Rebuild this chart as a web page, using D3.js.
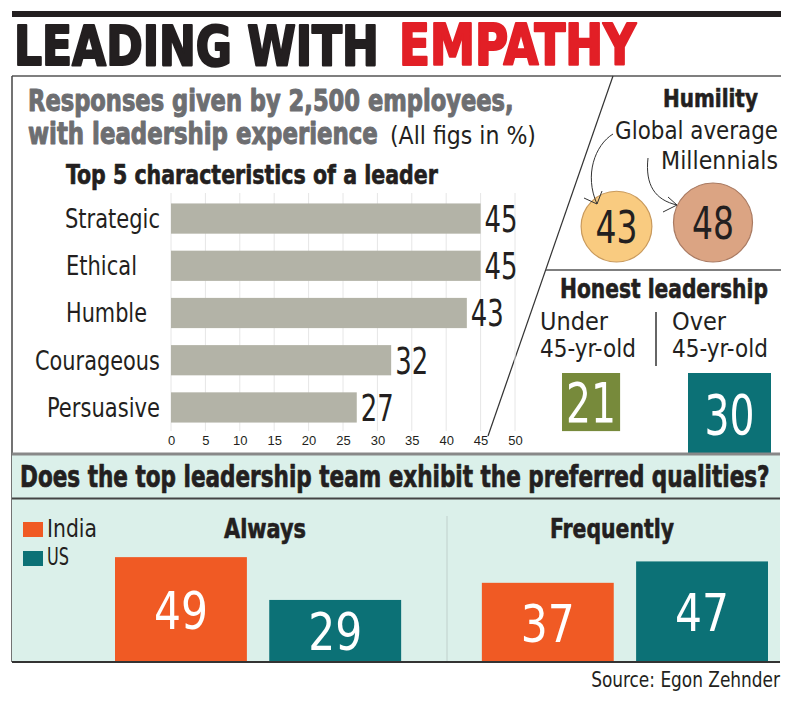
<!DOCTYPE html>
<html><head><meta charset="utf-8">
<script src="https://cdn.jsdelivr.net/npm/d3@7"></script>
<style>
html,body{margin:0;padding:0;background:#fff;}
svg{display:block;}
text{font-family:'Liberation Sans Narrow','DejaVu Sans Condensed','Roboto Condensed','Arial Narrow','Liberation Sans',sans-serif;}
</style></head>
<body>
<svg id="chart" width="799" height="702"></svg>
<script>
// ---------- DATA ----------
const categories = ["Strategic", "Ethical", "Humble", "Courageous", "Persuasive"];
const characteristicValues = [45, 45, 43, 32, 27];
const xTickValues = [0, 5, 10, 15, 20, 25, 30, 35, 40, 45, 50];

const humilityLabels = ["Global average", "Millennials"];
const humilityValues = [43, 48];

const honestLabelsTop = ["Under", "Over"];
const honestLabelsBottom = ["45-yr-old", "45-yr-old"];
const honestValues = [21, 30];

const groups = ["Always", "Frequently"];
const seriesNames = ["India", "US"];
const indiaValues = [49, 37];
const usValues = [29, 47];

// ---------- STYLE ----------
const C = {
  ink: "#231f20", red: "#e21f26", grey: "#6d6e71", bar: "#b3b3a7",
  grid: "#e6e6e6", orange: "#f05a24", teal: "#0c7176", green: "#778a3b",
  mint: "#dbf0ea", c1: "#f9cb80", c1s: "#c99a5c", c2: "#dba483", c2s: "#a97a62"
};
const catLabelWidths = [95, 71, 81, 125, 113];

const svg = d3.select("#chart");

// horizontally condense a text element to a target width, about its anchor x
function fitWidth(node, w) {
  const len = node.getComputedTextLength();
  if (!len || !w) return;
  const sx = w / len;
  const x = +node.getAttribute("x");
  node.setAttribute("transform", `translate(${x},0) scale(${sx},1) translate(${-x},0)`);
}

function txt(g, s, x, y, o) {
  o = o || {};
  const t = g.append("text").attr("x", x).attr("y", y).text(s)
    .attr("font-size", o.size || 24)
    .attr("font-weight", o.weight || "normal")
    .attr("fill", o.fill || C.ink)
    .attr("text-anchor", o.anchor || "start");
  if (o.stroke) t.attr("stroke", o.fill || C.ink).attr("stroke-width", o.stroke).attr("stroke-linejoin", "round");
  if (o.w) fitWidth(t.node(), o.w);
  return t;
}

// ---------- HEADER ----------
svg.append("rect").attr("x", 12).attr("y", 11).attr("width", 769).attr("height", 6).attr("fill", C.ink);
txt(svg, "LEADING WITH", 14, 65, {size: 56, weight: "bold", w: 365, fill: C.ink, stroke: 2.2});
txt(svg, "EMPATHY", 399, 65, {size: 56, weight: "bold", w: 237, fill: C.red, stroke: 2.2});

// frame lines
svg.append("line").attr("x1", 12).attr("x2", 781).attr("y1", 76).attr("y2", 76).attr("stroke", "#555").attr("stroke-width", 1.5);
svg.append("line").attr("x1", 12).attr("x2", 12).attr("y1", 76).attr("y2", 662).attr("stroke", "#444").attr("stroke-width", 1.5);
svg.append("line").attr("x1", 613).attr("y1", 76).attr("x2", 488).attr("y2", 436).attr("stroke", "#333").attr("stroke-width", 1.2);
svg.append("line").attr("x1", 546).attr("x2", 781).attr("y1", 270).attr("y2", 270).attr("stroke", "#555").attr("stroke-width", 1.5);

// subtitle
txt(svg, "Responses given by 2,500 employees,", 28, 111.5, {size: 29.5, weight: "bold", fill: C.grey, w: 486, stroke: 1});
txt(svg, "with leadership experience", 28, 144, {size: 29.5, weight: "bold", fill: C.grey, w: 350, stroke: 1});
txt(svg, "(All figs in %)", 390, 144, {size: 24, w: 146});
txt(svg, "Top 5 characteristics of a leader", 66, 184, {size: 26, weight: "bold", w: 372, stroke: 0.6});

// ---------- BAR CHART ----------
const x = d3.scaleLinear().domain([0, 50]).range([171, 515]);
const y = d3.scaleBand().domain(categories).range([194, 432]).paddingInner(0.36).paddingOuter(0.2);

const gChart = svg.append("g");
gChart.selectAll("line.grid").data(xTickValues).join("line")
  .attr("x1", d => x(d)).attr("x2", d => x(d)).attr("y1", 193).attr("y2", 431)
  .attr("stroke", C.grid).attr("stroke-width", 1);

const xAxis = d3.axisBottom(x).tickValues(xTickValues).tickSize(0).tickPadding(0);
const ax = gChart.append("g").attr("transform", "translate(0,433)").call(xAxis);
ax.select(".domain").remove();
ax.selectAll("text").attr("font-size", 13).attr("fill", C.ink).attr("dy", "0.9em")
  .style("font-family", "'Liberation Sans Narrow','Liberation Sans',sans-serif");

const rows = categories.map((c, i) => ({c, v: characteristicValues[i], w: catLabelWidths[i]}));
gChart.selectAll("rect.bar").data(rows).join("rect")
  .attr("x", x(0)).attr("y", d => y(d.c)).attr("width", d => x(d.v) - x(0)).attr("height", y.bandwidth())
  .attr("fill", C.bar);
gChart.selectAll("text.cat").data(rows).join("text")
  .attr("x", d => Math.min(66, 160 - d.w)).attr("y", d => y(d.c) + y.bandwidth() / 2).attr("dy", "0.36em")
  .attr("font-size", 26).attr("fill", C.ink).text(d => d.c)
  .each(function(d) { fitWidth(this, d.w); });
gChart.selectAll("text.val").data(rows).join("text")
  .attr("x", d => x(d.v) + 4).attr("y", d => y(d.c) + y.bandwidth() / 2).attr("dy", "0.36em")
  .attr("font-size", 37).attr("fill", C.ink).text(d => d.v)
  .each(function() { fitWidth(this, 33); });

// ---------- HUMILITY ----------
txt(svg, "Humility", 663, 107, {size: 25, weight: "bold", w: 95, stroke: 0.6});
txt(svg, "Global average", 778, 139, {size: 25, anchor: "end", w: 163});
txt(svg, "Millennials", 778, 169, {size: 25, anchor: "end", w: 117});

const r = d3.scaleLinear().domain([0, 48]).range([0, 39.5]);
const hx = d3.scalePoint().domain(humilityLabels).range([616.5, 713]);
const hum = humilityLabels.map((l, i) => ({l, v: humilityValues[i]}));
const circFill = [C.c1, C.c2], circStroke = [C.c1s, C.c2s];
svg.selectAll("circle.h").data(hum).join("circle")
  .attr("cx", d => hx(d.l)).attr("cy", d => 262 - r(d.v)).attr("r", d => r(d.v))
  .attr("fill", (d, i) => circFill[i]).attr("stroke", (d, i) => circStroke[i]).attr("stroke-width", 1.2);
svg.selectAll("text.h").data(hum).join("text")
  .attr("x", d => hx(d.l)).attr("y", d => 262 - r(d.v)).attr("dy", "0.36em")
  .attr("text-anchor", "middle").attr("font-size", 45).attr("fill", C.ink).text(d => d.v)
  .each(function() { fitWidth(this, 42); });

// curved arrows
const arrowG = svg.append("g").attr("fill", "none").attr("stroke", "#333").attr("stroke-width", 1);
arrowG.append("path").attr("d", "M613,134 C595,145 584,175 597,204");
arrowG.append("path").attr("d", "M584,198 L597,204 L602,191");
arrowG.append("path").attr("d", "M648,158 C645,185 655,200 677,205");
arrowG.append("path").attr("d", "M663,212 L677,205 L668,197");

// ---------- HONEST LEADERSHIP ----------
txt(svg, "Honest leadership", 560, 298, {size: 27, weight: "bold", w: 208, stroke: 0.6});
const hcol = d3.scalePoint().domain([0, 1]).range([540, 672]);
honestLabelsTop.forEach((l, i) => {
  txt(svg, l, hcol(i), 330, {size: 25});
  txt(svg, honestLabelsBottom[i], hcol(i), 357, {size: 25, w: 96});
});
svg.append("line").attr("x1", 656).attr("x2", 656).attr("y1", 312).attr("y2", 366).attr("stroke", "#333").attr("stroke-width", 1.5);

const side = d3.scaleLinear().domain([0, 30]).range([0, 83]);
const sqX = d3.scalePoint().domain([0, 1]).range([562, 688]);
const sqFill = [C.green, C.teal];
const hon = honestValues.map((v, i) => ({v, i}));
svg.selectAll("rect.sq").data(hon).join("rect")
  .attr("x", d => sqX(d.i)).attr("y", 373).attr("width", d => side(d.v)).attr("height", d => side(d.v))
  .attr("fill", d => sqFill[d.i]);
svg.selectAll("text.sq").data(hon).join("text")
  .attr("x", d => sqX(d.i) + side(d.v) / 2).attr("y", d => 373 + side(d.v) / 2).attr("dy", "0.36em")
  .attr("text-anchor", "middle").attr("font-size", 55).attr("fill", "#fff").text(d => d.v)
  .each(function() { fitWidth(this, 50); });

// ---------- BOTTOM SECTION ----------
svg.append("rect").attr("x", 12).attr("y", 453).attr("width", 768).attr("height", 209).attr("fill", C.mint);
svg.append("line").attr("x1", 12).attr("x2", 780).attr("y1", 454).attr("y2", 454).attr("stroke", "#888").attr("stroke-width", 3);
svg.append("line").attr("x1", 12).attr("x2", 780).attr("y1", 498.5).attr("y2", 498.5).attr("stroke", "#444").attr("stroke-width", 2);
txt(svg, "Does the top leadership team exhibit the preferred qualities?", 20, 487, {size: 30, weight: "bold", w: 750, stroke: 0.7});

svg.append("line").attr("x1", 447).attr("x2", 447).attr("y1", 516).attr("y2", 662).attr("stroke", "#c5d6d1").attr("stroke-width", 1.2);

// legend
const legColor = {India: C.orange, US: C.teal};
seriesNames.forEach((s, i) => {
  svg.append("rect").attr("x", 23).attr("y", 522 + i * 29).attr("width", 20).attr("height", 15).attr("fill", legColor[s]);
  txt(svg, s, 47, 537 + i * 28, {size: 25, w: s === "India" ? 50 : 22});
});

const gx = d3.scaleBand().domain(groups).range([115, 768]).paddingInner(0.22);
const sx = d3.scaleBand().domain(seriesNames).range([0, gx.bandwidth()]).paddingInner(0.145);
const yb = d3.scaleLinear().domain([0, 50]).range([662, 555]);

const headX = {Always: 265, Frequently: 612};
groups.forEach(g => txt(svg, g, headX[g], 538, {size: 27, weight: "bold", anchor: "middle", w: g === "Always" ? 82 : 124, stroke: 0.6}));

const bars = [];
groups.forEach((g, gi) => {
  bars.push({g, s: "India", v: indiaValues[gi]});
  bars.push({g, s: "US", v: usValues[gi]});
});
svg.selectAll("rect.gb").data(bars).join("rect")
  .attr("x", d => gx(d.g) + sx(d.s)).attr("y", d => yb(d.v)).attr("width", sx.bandwidth())
  .attr("height", d => yb(0) - yb(d.v)).attr("fill", d => legColor[d.s]);
svg.selectAll("text.gb").data(bars).join("text")
  .attr("x", d => gx(d.g) + sx(d.s) + sx.bandwidth() / 2)
  .attr("y", d => (yb(d.v) + yb(0)) / 2 + 1).attr("dy", "0.36em")
  .attr("text-anchor", "middle").attr("font-size", 51).attr("fill", "#fff").text(d => d.v)
  .each(function() { fitWidth(this, 54); });

svg.append("line").attr("x1", 12).attr("x2", 780).attr("y1", 662).attr("y2", 662).attr("stroke", "#333").attr("stroke-width", 2);

txt(svg, "Source: Egon Zehnder", 780, 687, {size: 22, anchor: "end", w: 189});
</script>
</body></html>
